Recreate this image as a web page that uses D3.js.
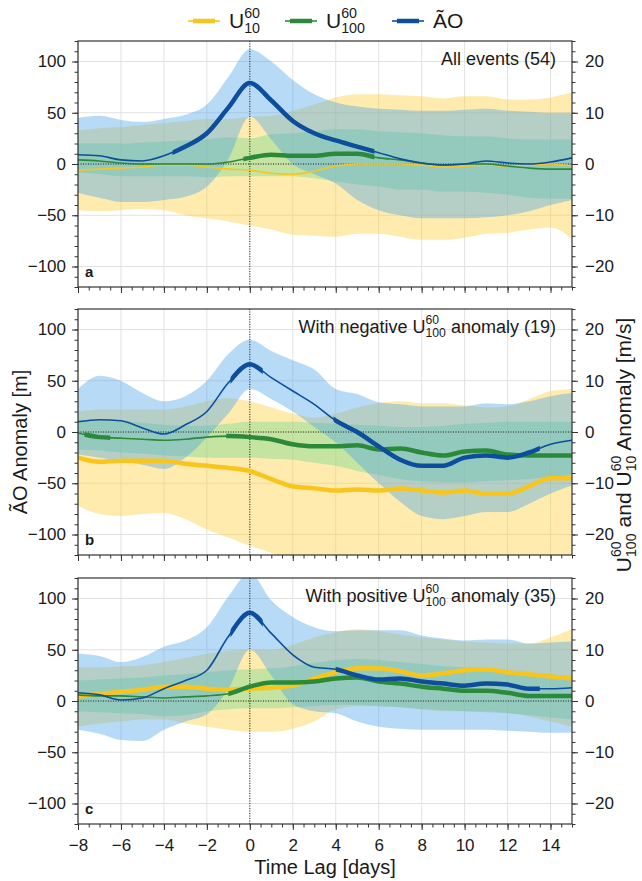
<!DOCTYPE html>
<html>
<head>
<meta charset="utf-8">
<script src="https://cdn.jsdelivr.net/npm/d3@7"></script>
<style>
    body { margin: 0; background: #fff; }
    svg text { font-family: "Liberation Sans", Arial, Helvetica, sans-serif; fill: #1a1a1a; }
</style>
</head>
<body>
<div id="chart"></div>
<script>
// time lag in days
const lags = [-8, -7, -6, -5, -4, -3, -2, -1, 0, 1, 2, 3, 4, 5, 6, 7, 8, 9, 10, 11, 12, 13, 14, 15];

// panel a: all events (54)
const aoMeanA = [9, 8, 4, 3, 8, 17, 30, 55, 79, 62, 42, 30, 23, 17, 11, 5, 1, -1, 0, 3, 1, 0, 2, 6];
const aoLowA = [-28, -33, -37, -37, -35, -32, -22, 5, 46, 24, 0, -10, -19, -35, -45, -50, -53, -53, -53, -52, -50, -46, -40, -35];
const aoHighA = [45, 47, 43, 41, 44, 48, 58, 85, 112, 100, 82, 68, 60, 56, 54, 53, 52, 52, 53, 54, 52, 51, 50, 50];
const u10MeanA = [-1.2, -1.0, -0.8, -0.6, -0.2, -0.2, -0.6, -1.0, -1.2, -1.8, -2.0, -1.4, -0.4, 0, 0, 0, -0.2, -0.6, -0.4, -0.2, -0.4, -0.2, 0, -0.4];
const u10LowA = [-9.0, -9.2, -9.0, -8.8, -9.0, -10.0, -10.6, -11.2, -12.0, -12.8, -13.8, -14.0, -14.2, -13.6, -13.6, -14.2, -14.8, -14.8, -14.4, -13.6, -13.4, -12.8, -12.4, -14.6];
const u10HighA = [6.6, 7.0, 7.2, 7.6, 8.0, 8.4, 8.8, 8.8, 9.2, 9.4, 10.4, 11.6, 13.0, 13.6, 13.6, 13.4, 13.2, 12.8, 13.2, 13.2, 12.6, 12.6, 13.0, 14.0];
const u100MeanA = [0.8, 0.6, 0.2, 0, 0, 0, 0, 0.4, 1.2, 1.8, 1.6, 1.6, 2.0, 2.0, 1.2, 0.8, 0.2, -0.2, 0, 0, -0.4, -0.8, -1.0, -1.0];
const u100LowA = [-1.6, -2.0, -2.4, -2.4, -2.4, -2.4, -2.6, -2.4, -2.4, -2.4, -2.4, -2.8, -3.4, -4.0, -4.4, -5.0, -5.0, -5.4, -5.4, -5.6, -6.0, -6.6, -6.8, -6.8];
const u100HighA = [4.0, 4.0, 4.0, 4.2, 4.4, 4.6, 4.8, 5.2, 5.0, 5.8, 6.0, 6.4, 6.8, 6.8, 6.4, 6.2, 6.0, 5.6, 5.4, 5.4, 5.0, 4.8, 4.8, 4.8];
const aoSigA = [[-3.6, 5.8]];
const u10SigA = [];
const u100SigA = [[-0.3, 5.8]];

// panel b: negative U100 anomaly (19)
const aoMeanB = [10, 12, 11, 4, -2, 7, 20, 48, 66, 53, 40, 27, 11, 0, -14, -27, -33, -33, -25, -23, -25, -20, -12, -8];
const aoLowB = [-22, -25, -28, -32, -36, -25, -5, 18, 42, 32, 20, 5, -10, -30, -50, -68, -82, -85, -82, -78, -78, -70, -60, -52];
const aoHighB = [42, 55, 50, 38, 30, 35, 50, 76, 90, 79, 70, 61, 42, 37, 29, 27, 25, 25, 25, 28, 27, 30, 35, 38];
const u10MeanB = [-5.0, -5.8, -5.6, -5.6, -5.6, -6.2, -6.6, -7.0, -7.6, -9.2, -10.6, -11.0, -11.4, -11.2, -11.4, -11.0, -11.4, -11.8, -11.4, -12.0, -12.0, -10.6, -9.0, -9.0];
const u10LowB = [-14.4, -16.0, -16.4, -16.0, -15.8, -17.0, -19.0, -20.6, -22.2, -23.6, -25.2, -26.5, -27.5, -28.0, -28.5, -28.5, -29.0, -29.0, -29.0, -28.5, -28.5, -28.0, -27.5, -27.0];
const u10HighB = [4.0, 4.4, 4.4, 4.4, 4.4, 5.0, 6.0, 6.6, 6.0, 4.8, 3.6, 2.8, 3.6, 4.8, 5.6, 6.0, 5.6, 5.6, 5.2, 4.8, 5.0, 6.4, 8.0, 8.4];
const u100MeanB = [-0.2, -1.0, -1.2, -1.4, -1.6, -1.4, -1.0, -0.8, -1.0, -1.4, -2.4, -2.8, -2.8, -2.6, -3.4, -3.2, -4.0, -4.6, -3.8, -3.6, -4.4, -4.6, -4.6, -4.6];
const u100LowB = [-3.4, -3.6, -4.0, -4.2, -4.6, -4.8, -5.0, -5.0, -5.0, -5.2, -5.4, -6.0, -6.6, -7.6, -8.4, -9.2, -9.6, -9.8, -9.8, -9.6, -9.4, -9.2, -8.8, -8.4];
const u100HighB = [2.4, 2.4, 2.2, 1.8, 1.4, 1.2, 1.2, 1.6, 2.0, 2.0, 2.0, 1.8, 1.6, 1.4, 1.2, 1.0, 1.0, 1.2, 1.6, 1.8, 2.0, 2.0, 2.0, 2.0];
const aoSigB = [[-0.9, 0.6], [3.9, 13.5]];
const u10SigB = [[-8, 15]];
const u100SigB = [[-7.7, -6.5], [-1.1, 15]];

// panel c: positive U100 anomaly (35)
const aoMeanC = [8, 6, 1, 3, 12, 20, 30, 63, 86, 66, 45, 33, 31, 25, 21, 22, 19, 17, 15, 17, 16, 12, 12, 13];
const aoLowC = [-28, -32, -38, -39, -28, -20, -13, 12, 50, 25, -3, -10, -12, -20, -25, -27, -28, -28, -28, -28, -29, -30, -31, -31];
const aoHighC = [46, 44, 38, 43, 53, 59, 72, 102, 125, 98, 82, 72, 68, 69, 69, 69, 64, 61, 59, 60, 60, 56, 57, 58];
const u10MeanC = [0.8, 1.4, 1.8, 2.2, 2.8, 2.8, 2.4, 2.2, 2.4, 2.6, 3.0, 4.4, 5.6, 6.4, 6.4, 5.8, 5.0, 5.4, 6.0, 6.2, 5.6, 5.2, 4.8, 4.4];
const u10LowC = [-5.0, -4.4, -4.0, -3.6, -3.6, -4.4, -5.0, -5.6, -6.0, -6.0, -5.4, -4.0, -1.6, -1.0, -1.0, -1.2, -1.6, -2.0, -2.0, -2.0, -2.4, -3.0, -4.0, -5.0];
const u10HighC = [6.6, 6.6, 6.8, 7.0, 7.6, 8.4, 9.2, 9.8, 10.0, 10.0, 11.0, 12.4, 13.4, 14.0, 13.6, 13.0, 12.4, 12.0, 11.6, 11.4, 11.2, 11.2, 12.4, 14.0];
const u100MeanC = [1.2, 1.0, 1.0, 0.8, 0.6, 0.8, 1.0, 1.4, 2.8, 3.6, 3.6, 3.8, 4.4, 4.6, 3.8, 3.4, 2.8, 2.4, 2.0, 2.0, 1.6, 1.0, 1.0, 1.0];
const u100LowC = [-2.0, -2.2, -2.4, -2.6, -3.0, -2.8, -2.0, -1.6, -1.4, -1.4, -1.2, -1.0, -0.8, -0.8, -1.0, -1.2, -1.6, -1.8, -2.0, -2.2, -2.4, -2.8, -3.2, -3.6];
const u100HighC = [4.0, 4.2, 4.4, 4.6, 5.0, 5.2, 5.6, 6.0, 6.2, 6.4, 6.8, 7.4, 8.0, 8.2, 8.0, 7.6, 7.2, 6.8, 6.6, 6.4, 6.0, 5.6, 5.2, 4.8];
const aoSigC = [[-0.9, 0.6], [4.0, 13.5]];
const u10SigC = [[-8, 15]];
const u100SigC = [[-1.0, 15]];

// tick labels
const xTickValues = [-8, -6, -4, -2, 0, 2, 4, 6, 8, 10, 12, 14];
const aoTickValues = [-100, -50, 0, 50, 100];
const uTickValues = [-20, -10, 0, 10, 20];

const panelLabels = ["a", "b", "c"];
const panelTitles = [
    ["All events (54)"],
    ["With negative ", { base: "U", sup: "60", sub: "100" }, " anomaly (19)"],
    ["With positive ", { base: "U", sup: "60", sub: "100" }, " anomaly (35)"]
];
const legendNames = [
    [{ base: "U", sup: "60", sub: "10" }],
    [{ base: "U", sup: "60", sub: "100" }],
    ["A\u0303O"]
];

const lineColor = { u10: "#f8c51c", u100: "#2a8a39", ao: "#0c4e9d" };
const bandColor = { u10: "#fdcd32", u100: "#70d78f", ao: "#4ba5eb" };

const width = 642, height = 881;
const panelTops = [41, 309, 578];
const panelHeight = 246;

const svg = d3.select("#chart").append("svg")
    .attr("width", width)
    .attr("height", height);

const x = d3.scaleLinear().domain([-8, 15]).range([78, 572]);

// rich text: strings and U with stacked super/subscript
function appendRich(text, parts, size) {
    var pendDx = 0, pendDy = 0;
    const small = size * 0.68;
    parts.forEach(part => {
        if (typeof part === "string") {
            const t = text.append("tspan").text(part);
            if (pendDx) t.attr("dx", pendDx);
            if (pendDy) t.attr("dy", pendDy);
            pendDx = 0; pendDy = 0;
        } else {
            const b = text.append("tspan").text(part.base);
            if (pendDx) b.attr("dx", pendDx);
            if (pendDy) b.attr("dy", pendDy);
            const sup = text.append("tspan").attr("font-size", small).attr("dy", -0.5 * size).text(part.sup);
            const w = sup.node().getComputedTextLength();
            const sub = text.append("tspan").attr("font-size", small)
                .attr("dx", -w).attr("dy", 0.72 * size).text(part.sub);
            const w2 = sub.node().getComputedTextLength();
            pendDx = Math.max(0, w - w2);
            pendDy = -0.22 * size;
        }
    });
}

function drawSeries(g, yScale, values, sig, color, key) {
    const line = d3.line()
        .curve(d3.curveMonotoneX)
        .x((d, i) => x(lags[i]))
        .y(d => yScale(d));

    g.append("path")
        .datum(values)
        .attr("fill", "none")
        .attr("stroke", color)
        .attr("stroke-width", 1.6)
        .attr("d", line);

    sig.forEach((s, j) => {
        const id = `sig-${key}-${j}`;
        svg.append("clipPath").attr("id", id)
            .append("rect")
            .attr("x", x(s[0]))
            .attr("y", 0)
            .attr("width", x(s[1]) - x(s[0]))
            .attr("height", height);
        g.append("path")
            .datum(values)
            .attr("clip-path", `url(#${id})`)
            .attr("fill", "none")
            .attr("stroke", color)
            .attr("stroke-width", 4.5)
            .attr("d", line);
    });
}

function drawPanel(p, idx) {
    const top = panelTops[idx];
    const y = d3.scaleLinear().domain([-120, 120]).range([top + panelHeight, top]);
    const y2 = d3.scaleLinear().domain([-24, 24]).range([top + panelHeight, top]);
    const x0 = x.range()[0], x1 = x.range()[1];
    const g = svg.append("g");

    const clipId = "clip-" + p.label;
    svg.append("clipPath").attr("id", clipId)
        .append("rect")
        .attr("x", x0).attr("y", top)
        .attr("width", x1 - x0).attr("height", panelHeight);

    // grid
    g.append("g")
        .attr("stroke", "#e2e2e2")
        .attr("stroke-width", 1)
        .call(gg => gg.selectAll(".vx").data(xTickValues).join("line")
            .attr("x1", d => x(d)).attr("x2", d => x(d))
            .attr("y1", top).attr("y2", top + panelHeight))
        .call(gg => gg.selectAll(".hy").data(aoTickValues).join("line")
            .attr("x1", x0).attr("x2", x1)
            .attr("y1", d => y(d)).attr("y2", d => y(d)));

    // spread bands
    const plot = g.append("g").attr("clip-path", `url(#${clipId})`);
    const band = (scale, lo, hi) => d3.area()
        .curve(d3.curveMonotoneX)
        .x((d, i) => x(lags[i]))
        .y0((d, i) => scale(lo[i]))
        .y1((d, i) => scale(hi[i]));

    plot.append("path").datum(lags)
        .attr("fill", bandColor.u10).attr("fill-opacity", 0.4)
        .attr("d", band(y2, p.u10Low, p.u10High));
    plot.append("path").datum(lags)
        .attr("fill", bandColor.u100).attr("fill-opacity", 0.4)
        .attr("d", band(y2, p.u100Low, p.u100High));
    plot.append("path").datum(lags)
        .attr("fill", bandColor.ao).attr("fill-opacity", 0.4)
        .attr("d", band(y, p.aoLow, p.aoHigh));

    // zero lines
    plot.append("line")
        .attr("x1", x0).attr("x2", x1).attr("y1", y(0)).attr("y2", y(0))
        .attr("stroke", "#222").attr("stroke-width", 1).attr("stroke-dasharray", "1,1.5");
    plot.append("line")
        .attr("x1", x(0)).attr("x2", x(0)).attr("y1", top).attr("y2", top + panelHeight)
        .attr("stroke", "#222").attr("stroke-width", 1).attr("stroke-dasharray", "1,1.5");

    // mean lines, thick where significant
    drawSeries(plot, y2, p.u10Mean, p.u10Sig, lineColor.u10, "u10" + p.label);
    drawSeries(plot, y2, p.u100Mean, p.u100Sig, lineColor.u100, "u100" + p.label);
    drawSeries(plot, y, p.aoMean, p.aoSig, lineColor.ao, "ao" + p.label);

    // axes
    const styleAxis = a => a
        .call(a => a.select(".domain").remove())
        .call(a => a.selectAll(".tick line").attr("stroke", "#333").attr("stroke-width", 1))
        .call(a => a.selectAll("text").attr("font-size", 17).attr("fill", "#1a1a1a")
            .attr("font-family", '"Liberation Sans", Arial, sans-serif'));

    g.append("g")
        .attr("transform", `translate(${x0},0)`)
        .call(d3.axisLeft(y).tickValues(d3.range(-120, 121, 10)).tickSize(3.5).tickFormat(""))
        .call(styleAxis);
    g.append("g")
        .attr("transform", `translate(${x0},0)`)
        .call(d3.axisLeft(y).tickValues(aoTickValues).tickSize(6).tickPadding(6))
        .call(styleAxis);

    g.append("g")
        .attr("transform", `translate(${x1},0)`)
        .call(d3.axisRight(y2).tickValues(d3.range(-24, 25, 2)).tickSize(3.5).tickFormat(""))
        .call(styleAxis);
    g.append("g")
        .attr("transform", `translate(${x1},0)`)
        .call(d3.axisRight(y2).tickValues(uTickValues).tickSize(6).tickPadding(7))
        .call(styleAxis);

    g.append("g")
        .attr("transform", `translate(0,${top + panelHeight})`)
        .call(d3.axisBottom(x).tickValues(d3.range(-8, 15.01, 0.5)).tickSize(3.5).tickFormat(""))
        .call(styleAxis);
    g.append("g")
        .attr("transform", `translate(0,${top + panelHeight})`)
        .call(d3.axisBottom(x).tickValues(xTickValues).tickSize(6).tickPadding(9)
            .tickFormat(idx === 2 ? null : ""))
        .call(styleAxis);

    // frame
    g.append("rect")
        .attr("x", x0).attr("y", top)
        .attr("width", x1 - x0).attr("height", panelHeight)
        .attr("fill", "none").attr("stroke", "#333").attr("stroke-width", 1.2);

    // panel letter and title
    g.append("text")
        .attr("x", 85).attr("y", top + 236)
        .attr("font-size", 15).attr("font-weight", "bold")
        .text(p.label);

    const title = g.append("text")
        .attr("x", 556).attr("y", top + 24)
        .attr("font-size", 18)
        .attr("text-anchor", "end");
    appendRich(title, p.title, 18);
}

const panels = [
    { label: panelLabels[0], title: panelTitles[0],
      aoMean: aoMeanA, aoLow: aoLowA, aoHigh: aoHighA, aoSig: aoSigA,
      u10Mean: u10MeanA, u10Low: u10LowA, u10High: u10HighA, u10Sig: u10SigA,
      u100Mean: u100MeanA, u100Low: u100LowA, u100High: u100HighA, u100Sig: u100SigA },
    { label: panelLabels[1], title: panelTitles[1],
      aoMean: aoMeanB, aoLow: aoLowB, aoHigh: aoHighB, aoSig: aoSigB,
      u10Mean: u10MeanB, u10Low: u10LowB, u10High: u10HighB, u10Sig: u10SigB,
      u100Mean: u100MeanB, u100Low: u100LowB, u100High: u100HighB, u100Sig: u100SigB },
    { label: panelLabels[2], title: panelTitles[2],
      aoMean: aoMeanC, aoLow: aoLowC, aoHigh: aoHighC, aoSig: aoSigC,
      u10Mean: u10MeanC, u10Low: u10LowC, u10High: u10HighC, u10Sig: u10SigC,
      u100Mean: u100MeanC, u100Low: u100LowC, u100High: u100HighC, u100Sig: u100SigC }
];

panels.forEach(drawPanel);

// axis titles
svg.append("text")
    .attr("x", (x.range()[0] + x.range()[1]) / 2).attr("y", 874)
    .attr("text-anchor", "middle").attr("font-size", 20)
    .text("Time Lag [days]");

svg.append("text")
    .attr("transform", "translate(27,442) rotate(-90)")
    .attr("text-anchor", "middle").attr("font-size", 20)
    .text("A\u0303O Anomaly [m]");

const y2Title = svg.append("text")
    .attr("transform", "translate(631,445) rotate(-90)")
    .attr("text-anchor", "middle").attr("font-size", 21);
appendRich(y2Title, [{ base: "U", sup: "60", sub: "100" }, " and ",
    { base: "U", sup: "60", sub: "10" }, " Anomaly [m/s]"], 21);

// legend
const legendX = [188, 285, 392];
const legendKeys = ["u10", "u100", "ao"];
const legend = svg.append("g");
legendKeys.forEach((k, i) => {
    const lx = legendX[i];
    legend.append("line")
        .attr("x1", lx).attr("x2", lx + 32).attr("y1", 21).attr("y2", 21)
        .attr("stroke", lineColor[k]).attr("stroke-width", 1.6);
    legend.append("line")
        .attr("x1", lx + 5).attr("x2", lx + 27).attr("y1", 21).attr("y2", 21)
        .attr("stroke", lineColor[k]).attr("stroke-width", 4.5);
    const t = legend.append("text")
        .attr("x", lx + 41).attr("y", 28)
        .attr("font-size", 21);
    appendRich(t, legendNames[i], 21);
});
</script>
</body>
</html>
